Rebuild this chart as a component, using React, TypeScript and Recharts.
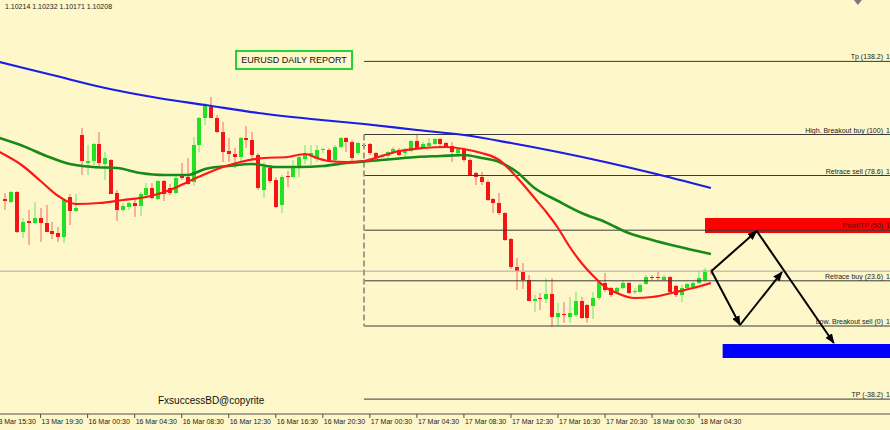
import {
  ComposedChart,
  Bar,
  Line,
  XAxis,
  YAxis,
  ReferenceLine,
  ReferenceArea,
  ReferenceDot,
} from "recharts";

// EURUSD M30 candles: [open, high, low, close]
const ohlc: number[][] = [
  [1.1093, 1.1099, 1.1082, 1.1091],
  [1.109, 1.1101, 1.1089, 1.11],
  [1.11, 1.1101, 1.1059, 1.106],
  [1.106, 1.1074, 1.1054, 1.107],
  [1.1071, 1.1082, 1.1047, 1.1069],
  [1.1069, 1.109, 1.1068, 1.1074],
  [1.1074, 1.1084, 1.105, 1.1069],
  [1.1069, 1.1087, 1.106, 1.106],
  [1.1061, 1.107, 1.1053, 1.1058],
  [1.1059, 1.1065, 1.105, 1.1055],
  [1.1055, 1.1094, 1.1049, 1.1092],
  [1.1095, 1.1098, 1.1067, 1.1081],
  [1.1081, 1.1098, 1.108, 1.1084],
  [1.1157, 1.1164, 1.1117, 1.1131],
  [1.1129, 1.1147, 1.1117, 1.1131],
  [1.1131, 1.1149, 1.1127, 1.1148],
  [1.1148, 1.116, 1.1125, 1.1129],
  [1.1128, 1.114, 1.1112, 1.1134],
  [1.1132, 1.1133, 1.1098, 1.1098],
  [1.1099, 1.1102, 1.1071, 1.1082],
  [1.1082, 1.1089, 1.108, 1.1086],
  [1.1085, 1.109, 1.1082, 1.1089],
  [1.1089, 1.1092, 1.1075, 1.1086],
  [1.1086, 1.11, 1.1076, 1.1098],
  [1.1097, 1.1109, 1.1096, 1.1104],
  [1.1104, 1.1109, 1.1093, 1.1094],
  [1.1093, 1.1112, 1.1092, 1.1111],
  [1.1111, 1.1112, 1.1091, 1.1098],
  [1.1104, 1.1108, 1.1097, 1.1099],
  [1.1099, 1.1118, 1.1098, 1.1114],
  [1.1116, 1.1129, 1.1112, 1.1114],
  [1.1115, 1.1134, 1.1107, 1.1108],
  [1.111, 1.1155, 1.1106, 1.1147],
  [1.1147, 1.1175, 1.114, 1.1174],
  [1.1174, 1.1189, 1.1167, 1.1187],
  [1.1185, 1.1195, 1.1174, 1.1174],
  [1.1174, 1.1177, 1.1159, 1.116],
  [1.116, 1.117, 1.113, 1.114],
  [1.1141, 1.1154, 1.113, 1.1138],
  [1.1138, 1.1144, 1.1124, 1.1135],
  [1.1135, 1.1155, 1.113, 1.1154],
  [1.1154, 1.1166, 1.1144, 1.1152],
  [1.1152, 1.116, 1.1132, 1.1137],
  [1.1137, 1.1139, 1.1102, 1.1104],
  [1.1102, 1.113, 1.1094, 1.1125],
  [1.1124, 1.1127, 1.1109, 1.1111],
  [1.1112, 1.1115, 1.1084, 1.1085],
  [1.1087, 1.1117, 1.1079, 1.1115],
  [1.1116, 1.1121, 1.1105, 1.1115],
  [1.1115, 1.1132, 1.1114, 1.1125],
  [1.1125, 1.1139, 1.1115, 1.1135],
  [1.1133, 1.1147, 1.1128, 1.1138],
  [1.1136, 1.1147, 1.1127, 1.1139],
  [1.1134, 1.1147, 1.113, 1.1142],
  [1.1142, 1.1144, 1.1139, 1.1143],
  [1.1142, 1.1144, 1.113, 1.1132],
  [1.1132, 1.1147, 1.113, 1.1145],
  [1.1145, 1.1155, 1.1144, 1.1154],
  [1.1154, 1.1155, 1.114, 1.115],
  [1.115, 1.1152, 1.113, 1.1134],
  [1.1139, 1.115, 1.1137, 1.1149],
  [1.1147, 1.1149, 1.1145, 1.1146],
  [1.1148, 1.1149, 1.1137, 1.1139],
  [1.1139, 1.114, 1.1134, 1.1135],
  [1.1135, 1.1138, 1.1134, 1.1137],
  [1.1136, 1.1141, 1.1134, 1.114],
  [1.1139, 1.1145, 1.1138, 1.1143],
  [1.1142, 1.1144, 1.1136, 1.1137],
  [1.1139, 1.1144, 1.1134, 1.1141],
  [1.1141, 1.1152, 1.114, 1.1151],
  [1.1151, 1.1157, 1.1144, 1.1144],
  [1.1144, 1.115, 1.1143, 1.1148],
  [1.1146, 1.1154, 1.1145, 1.1149],
  [1.1148, 1.1154, 1.1147, 1.1153],
  [1.1153, 1.1154, 1.1145, 1.1148],
  [1.1149, 1.115, 1.1144, 1.1145],
  [1.1146, 1.115, 1.113, 1.114],
  [1.1139, 1.1144, 1.1138, 1.1143],
  [1.1143, 1.1144, 1.113, 1.1132],
  [1.1132, 1.1134, 1.1117, 1.1117],
  [1.1119, 1.112, 1.1107, 1.1115],
  [1.1115, 1.112, 1.1107, 1.111],
  [1.111, 1.1112, 1.1091, 1.1092],
  [1.1093, 1.1094, 1.1079, 1.1089],
  [1.1089, 1.1099, 1.1077, 1.1079],
  [1.1079, 1.108, 1.1051, 1.1052],
  [1.1053, 1.1054, 1.1023, 1.1025],
  [1.1025, 1.1034, 1.1002, 1.102],
  [1.1021, 1.1029, 1.1003, 1.1012],
  [1.1012, 1.1017, 1.0991, 1.0991],
  [1.0991, 1.0997, 1.098, 1.0993],
  [1.0994, 1.0999, 1.0982, 1.0993],
  [1.0993, 1.1014, 1.0989, 1.0998],
  [1.0998, 1.1014, 1.0965, 1.0975],
  [1.0975, 1.0989, 1.0966, 1.0979],
  [1.0978, 1.099, 1.0969, 1.0977],
  [1.0975, 1.0995, 1.0969, 1.0979],
  [1.0977, 1.1, 1.0975, 1.0991],
  [1.0991, 1.0995, 1.0973, 1.0974],
  [1.0987, 1.0988, 1.0969, 1.0974],
  [1.0986, 1.1, 1.0973, 1.0994],
  [1.0994, 1.101, 1.0992, 1.101],
  [1.1009, 1.1019, 1.1, 1.1002],
  [1.1004, 1.1005, 1.0995, 1.0997],
  [1.0999, 1.1005, 1.0998, 1.1004],
  [1.1004, 1.1012, 1.1003, 1.1009],
  [1.1009, 1.101, 1.0998, 1.0999],
  [1.1, 1.1004, 1.0998, 1.1001],
  [1.1, 1.1009, 1.0999, 1.1007],
  [1.1008, 1.1017, 1.1007, 1.1015],
  [1.1015, 1.1017, 1.1012, 1.1014],
  [1.1015, 1.1021, 1.1012, 1.1014],
  [1.1012, 1.1017, 1.1011, 1.1015],
  [1.1015, 1.1016, 1.0999, 1.1],
  [1.1006, 1.1007, 1.0995, 1.0997],
  [1.0997, 1.1007, 1.099, 1.1004],
  [1.1004, 1.1009, 1.1003, 1.1008],
  [1.1005, 1.101, 1.1004, 1.1009],
  [1.1009, 1.102, 1.1008, 1.1014],
  [1.1012, 1.1024, 1.101, 1.1022],
  [1.10214, 1.10232, 1.10171, 1.10208],
];

// moving averages: [candle index, price]
const blueMA: number[][] = [
  [-1, 1.123], [8, 1.1217], [17, 1.1204], [26, 1.1194], [34, 1.1187], [43, 1.1179],
  [52, 1.1173], [61, 1.1168], [70, 1.1162], [78, 1.1157], [86, 1.1149], [94, 1.114],
  [102, 1.113], [110, 1.1119], [120, 1.1104],
];
const greenMA: number[][] = [
  [-1, 1.1154], [3, 1.1146], [7, 1.1136], [11, 1.1128], [15, 1.1125], [19, 1.1124],
  [23, 1.1119], [27, 1.1117], [31, 1.1117], [34, 1.1123], [38, 1.1126], [42, 1.1128],
  [46, 1.1125], [50, 1.1125], [54, 1.1126], [58, 1.1129], [62, 1.1131], [66, 1.1133],
  [70, 1.1135], [74, 1.1136], [78, 1.1137], [81, 1.1134], [84, 1.113], [87, 1.112],
  [90, 1.1104], [94, 1.1091], [98, 1.1079], [102, 1.107], [106, 1.1059], [110, 1.1052],
  [114, 1.1046], [120, 1.1038],
];
const redMA: number[][] = [
  [-1, 1.114], [3, 1.1126], [6, 1.1111], [9, 1.1096], [12, 1.1088], [16, 1.1089],
  [20, 1.1092], [24, 1.1095], [28, 1.1102], [31, 1.111], [34, 1.1118], [37, 1.1125],
  [40, 1.113], [44, 1.1134], [48, 1.1135], [51, 1.1138], [53, 1.1134], [55, 1.1131],
  [58, 1.113], [61, 1.1131], [64, 1.1136], [67, 1.1141], [71, 1.1144], [75, 1.1145],
  [78, 1.1143], [81, 1.1139], [84, 1.1132], [86, 1.1121], [88, 1.1108], [90, 1.1094],
  [92, 1.108], [94, 1.1064], [96, 1.1045], [98, 1.1029], [100, 1.1016], [102, 1.1005],
  [104, 1.0999], [107, 1.0994], [110, 1.0995], [114, 1.1], [117, 1.1004], [120, 1.1009],
];

const timeTicks = [-2, 6, 14, 22, 30, 38, 46, 54, 62, 70, 78, 86, 94, 102, 110, 118];
const timeLabels = [
  "13 Mar 15:30", "13 Mar 19:30", "16 Mar 00:30", "16 Mar 04:30", "16 Mar 08:30",
  "16 Mar 12:30", "16 Mar 16:30", "16 Mar 20:30", "17 Mar 00:30", "17 Mar 04:30",
  "17 Mar 08:30", "17 Mar 12:30", "17 Mar 16:30", "17 Mar 20:30", "18 Mar 00:30",
  "18 Mar 04:30",
];

const fibNames = [
  "Tp (138.2)", "High. Breakout buy (100)", "Retrace sell (78.6)", "Pivot/TP (50)",
  "Retrace buy (23.6)", "Low. Breakout sell (0)", "TP (-38.2)",
];
const fibPrices = [1.12306, 1.11575, 1.11165, 1.10618, 1.10112, 1.0966, 1.08929];
const fibStart = 61;
const bidPrice = 1.10208;

// scenario arrows: [[fromIndex, fromPrice], [toIndex, toPrice]]
const arrows: number[][][] = [
  [[120.1, 1.1021], [127.8, 1.1061]],
  [[127.8, 1.1061], [140.9, 1.0949]],
  [[120.1, 1.1021], [124.95, 1.0967]],
  [[124.95, 1.0967], [132.1, 1.102]],
];
const sellZone = { x1: 119, y1: 1.1059, y2: 1.1074 };
const buyZone = { x1: 122, y1: 1.0934, y2: 1.0948 };

const X_MIN = -0.9;
const X_MAX = 150.46;
const Y_MIN = 1.0878;
const Y_MAX = 1.1292;

const BG = "#fdf7c9";
const FONT = "'Liberation Sans', Arial, sans-serif";

const candles = ohlc.map((v, i) => ({ i, o: v[0], h: v[1], l: v[2], c: v[3] }));
const toPts = (arr: number[][]) => arr.map(([i, v]) => ({ i, v }));

const Candle = (props: any) => {
  let { x, y, width, height } = props;
  const { o, h, l, c } = props.payload;
  if (height < 0) {
    y += height;
    height = -height;
  }
  const k = height / (h - l);
  const cx = Math.round(x + width / 2);
  const top = y + (h - Math.max(o, c)) * k;
  const bodyH = Math.max(1, Math.abs(o - c) * k);
  const up = c > o;
  return (
    <g>
      <rect x={cx - 0.5} y={y} width={1} height={height} fill={up ? "#6fe46f" : "#f46a6a"} />
      <rect x={cx - 2} y={top} width={4} height={bodyH} fill={up ? "#22e022" : "#f41414"} />
    </g>
  );
};

const TimeTick = (props: any) => {
  const { x, y, payload } = props;
  const idx = timeTicks.indexOf(payload.value);
  return (
    <text x={x + 1} y={y + 6} fontSize={7} fontFamily={FONT} fill="#222" textAnchor="start">
      {timeLabels[idx]}
    </text>
  );
};

const arrowShape = (p: any) => (
  <line x1={p.x1} y1={p.y1} x2={p.x2} y2={p.y2} stroke="#000" strokeWidth={2} markerEnd="url(#ah)" />
);

export default function App() {
  return (
    <div style={{ position: "absolute", left: 0, top: 0, width: 890, height: 430, background: BG, overflow: "hidden", fontFamily: FONT }}>
      <ComposedChart width={890} height={430} data={candles} margin={{ top: 0, right: 0, bottom: 0, left: 0 }}>
        <defs>
          <marker id="ah" markerWidth="10" markerHeight="8" refX="9" refY="4" orient="auto" markerUnits="userSpaceOnUse">
            <path d="M0,0 L10,4 L0,8 z" fill="#000" />
          </marker>
        </defs>
        <XAxis
          dataKey="i"
          type="number"
          domain={[X_MIN, X_MAX]}
          allowDataOverflow
          ticks={timeTicks}
          interval={0}
          tick={<TimeTick />}
          tickSize={4}
          tickMargin={0}
          height={16}
          axisLine={{ stroke: "#505050" }}
          tickLine={{ stroke: "#505050" }}
        />
        <YAxis hide domain={[Y_MIN, Y_MAX]} allowDataOverflow />
        <ReferenceLine y={bidPrice} stroke="#c4c2b4" strokeWidth={1.5} />
        <ReferenceArea x1={sellZone.x1} x2={X_MAX} y1={sellZone.y1} y2={sellZone.y2} fill="#ff0000" fillOpacity={1} stroke="none" />
        <ReferenceArea x1={buyZone.x1} x2={X_MAX} y1={buyZone.y1} y2={buyZone.y2} fill="#0000ff" fillOpacity={1} stroke="none" />
        {fibPrices.map((p, k) => (
          <ReferenceLine
            key={fibNames[k]}
            segment={[{ x: fibStart, y: p }, { x: X_MAX, y: p }]}
            stroke="#3a3a3a"
            strokeWidth={1}
          />
        ))}
        <ReferenceLine
          segment={[{ x: fibStart, y: fibPrices[1] }, { x: fibStart, y: fibPrices[5] }]}
          stroke="#a39d84"
          strokeWidth={2}
          strokeDasharray="6 3"
        />
        <Bar dataKey={(d: any) => [d.l, d.h]} shape={Candle} barSize={4} activeBar={false} isAnimationActive={false} />
        <Line data={toPts(blueMA)} dataKey="v" type="monotone" stroke="#1c1ce6" strokeWidth={2.2} dot={false} activeDot={false} isAnimationActive={false} />
        <Line data={toPts(greenMA)} dataKey="v" type="monotone" stroke="#178a17" strokeWidth={2.6} dot={false} activeDot={false} isAnimationActive={false} />
        <Line data={toPts(redMA)} dataKey="v" type="monotone" stroke="#ff1616" strokeWidth={2.2} dot={false} activeDot={false} isAnimationActive={false} />
        {arrows.map((a, k) => (
          <ReferenceLine
            key={"arrow" + k}
            segment={[{ x: a[0][0], y: a[0][1] }, { x: a[1][0], y: a[1][1] }]}
            shape={arrowShape}
          />
        ))}
        {fibPrices.map((p, k) => (
          <ReferenceDot
            key={"lbl" + k}
            x={150}
            y={p}
            r={0}
            ifOverflow="visible"
            shape={(s: any) => (
              <g>
                <text x={s.cx - 4.3} y={s.cy - 2} fontSize={7} fontFamily={FONT} fill="#222" textAnchor="end">
                  {fibNames[k]}
                </text>
                <text x={s.cx - 1.3} y={s.cy - 2} fontSize={7} fontFamily={FONT} fill="#222">
                  {p.toFixed(5)}
                </text>
              </g>
            )}
          />
        ))}
        <ReferenceDot
          x={145}
          y={Y_MAX}
          r={0}
          ifOverflow="visible"
          shape={(s: any) => <path d={`M${s.cx - 4},${s.cy} L${s.cx + 4},${s.cy} L${s.cx},${s.cy + 5} z`} fill="#7a7a7a" />}
        />
      </ComposedChart>
      <div style={{ position: "absolute", left: 5, top: 3, fontSize: 7, lineHeight: "8px", color: "#222", whiteSpace: "nowrap" }}>
        1.10214 1.10232 1.10171 1.10208
      </div>
      <div
        style={{
          position: "absolute",
          left: 235,
          top: 50,
          width: 118,
          height: 20,
          boxSizing: "border-box",
          border: "2px solid #1ed63a",
          fontSize: 9,
          lineHeight: "16px",
          textAlign: "center",
          color: "#111",
          whiteSpace: "nowrap",
        }}
      >
        EURUSD DAILY REPORT
      </div>
      <div style={{ position: "absolute", left: 158, top: 395, fontSize: 10, lineHeight: "12px", color: "#111", whiteSpace: "nowrap" }}>
        FxsuccessBD@copyrite
      </div>
    </div>
  );
}
